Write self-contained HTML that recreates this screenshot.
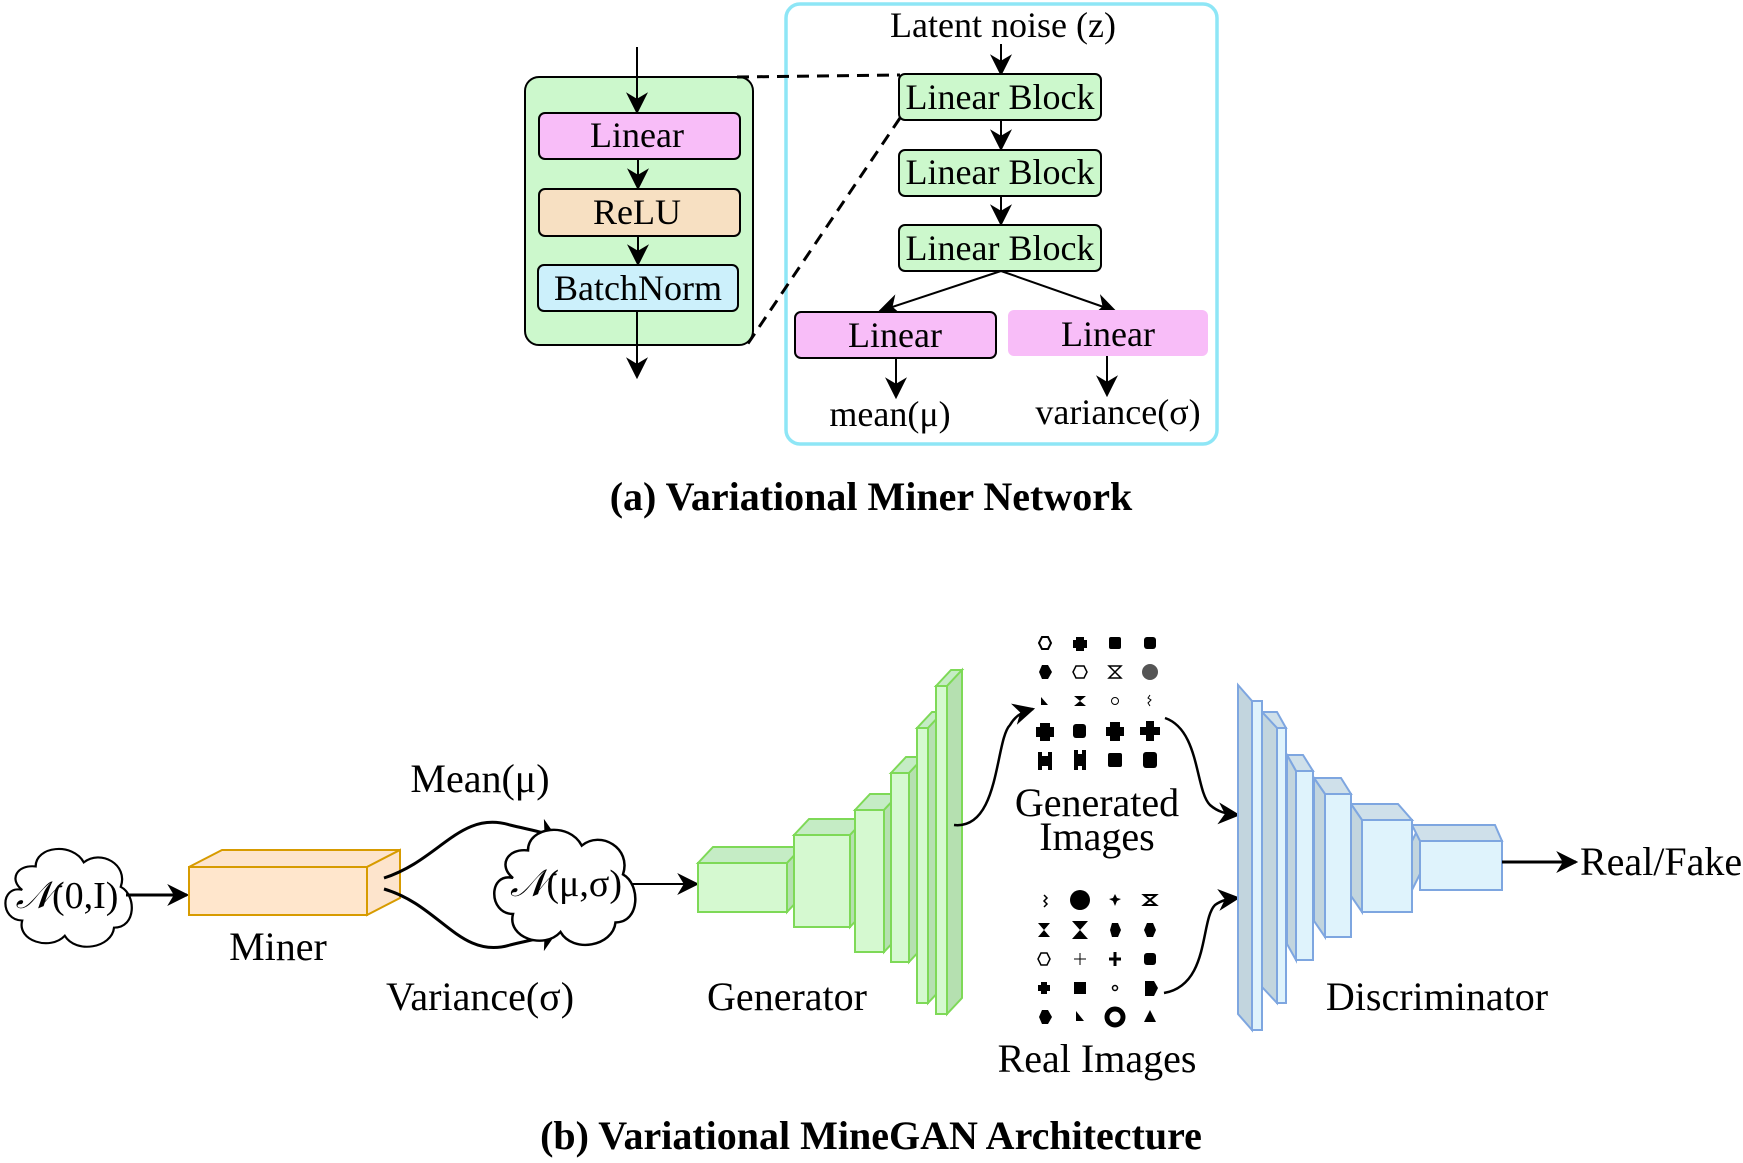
<!DOCTYPE html>
<html><head><meta charset="utf-8"><style>
html,body{margin:0;padding:0;background:#fff}
svg{display:block}
text{font-family:"Liberation Serif",serif;fill:#000}
</style></head><body>
<svg width="1743" height="1163" viewBox="0 0 1743 1163" xmlns="http://www.w3.org/2000/svg">
<defs>
<marker id="ah2" viewBox="0 0 10 10" refX="9" refY="5" markerWidth="22" markerHeight="22" orient="auto" markerUnits="userSpaceOnUse">
<path d="M0,0 L10,5 L0,10 L3,5 z" fill="#000"/></marker>
<g id="cloud"><path d="M-40,-5 C-60,-10 -60,25 -40,25 C-45,45 -15,55 -2,40 C8,58 40,52 42,32 C62,32 62,0 48,-8 C55,-30 30,-45 15,-32 C5,-52 -28,-48 -28,-28 C-45,-30 -52,-15 -40,-5 z" fill="#fff" stroke="#000" stroke-width="2"/></g>
</defs>

<!-- ===== Top (a) ===== -->
<rect x="525" y="77" width="228" height="268" rx="14" fill="#ccf8cc" stroke="#000" stroke-width="2"/>
<line x1="637" y1="47" x2="637" y2="112" stroke="#000" stroke-width="2" marker-end="url(#ah2)"/>
<rect x="539" y="113" width="201" height="46" rx="6" fill="#f8bdf8" stroke="#000" stroke-width="2"/>
<text x="637" y="147" font-size="36" text-anchor="middle">Linear</text>
<line x1="638" y1="159" x2="638" y2="188" stroke="#000" stroke-width="2" marker-end="url(#ah2)"/>
<rect x="539" y="189" width="201" height="47" rx="6" fill="#f7e0c2" stroke="#000" stroke-width="2"/>
<text x="637" y="224" font-size="36" text-anchor="middle">ReLU</text>
<line x1="638" y1="236" x2="638" y2="264" stroke="#000" stroke-width="2" marker-end="url(#ah2)"/>
<rect x="538" y="265" width="200" height="46" rx="6" fill="#ccf0fb" stroke="#000" stroke-width="2"/>
<text x="638" y="300" font-size="36" text-anchor="middle">BatchNorm</text>
<line x1="637" y1="311" x2="637" y2="377" stroke="#000" stroke-width="2" marker-end="url(#ah2)"/>

<rect x="786" y="4" width="431" height="440" rx="14" fill="none" stroke="#8ee6f6" stroke-width="3.5"/>
<line x1="737" y1="77" x2="900" y2="75" stroke="#000" stroke-width="3" stroke-dasharray="12,8"/>
<line x1="900" y1="118" x2="747" y2="345" stroke="#000" stroke-width="3" stroke-dasharray="12,8"/>
<text x="1003" y="37" font-size="36" text-anchor="middle">Latent noise (z)</text>
<line x1="1001" y1="44" x2="1001" y2="74" stroke="#000" stroke-width="2" marker-end="url(#ah2)"/>
<rect x="899" y="74" width="202" height="46" rx="6" fill="#ccf8cc" stroke="#000" stroke-width="2"/>
<text x="1000" y="109" font-size="36" text-anchor="middle">Linear Block</text>
<line x1="1001" y1="120" x2="1001" y2="149" stroke="#000" stroke-width="2" marker-end="url(#ah2)"/>
<rect x="899" y="150" width="202" height="46" rx="6" fill="#ccf8cc" stroke="#000" stroke-width="2"/>
<text x="1000" y="184" font-size="36" text-anchor="middle">Linear Block</text>
<line x1="1001" y1="196" x2="1001" y2="224" stroke="#000" stroke-width="2" marker-end="url(#ah2)"/>
<rect x="899" y="225" width="202" height="46" rx="6" fill="#ccf8cc" stroke="#000" stroke-width="2"/>
<text x="1000" y="260" font-size="36" text-anchor="middle">Linear Block</text>
<line x1="1001" y1="271" x2="880" y2="311" stroke="#000" stroke-width="2" marker-end="url(#ah2)"/>
<line x1="1001" y1="271" x2="1115" y2="311" stroke="#000" stroke-width="2" marker-end="url(#ah2)"/>
<rect x="795" y="312" width="201" height="46" rx="6" fill="#f8bdf8" stroke="#000" stroke-width="2"/>
<text x="895" y="347" font-size="36" text-anchor="middle">Linear</text>
<rect x="1008" y="310" width="200" height="46" rx="6" fill="#f8bdf8"/>
<text x="1108" y="346" font-size="36" text-anchor="middle">Linear</text>
<line x1="896" y1="358" x2="896" y2="397" stroke="#000" stroke-width="2" marker-end="url(#ah2)"/>
<line x1="1107" y1="356" x2="1107" y2="395" stroke="#000" stroke-width="2" marker-end="url(#ah2)"/>
<text x="890" y="426" font-size="36" text-anchor="middle">mean(μ)</text>
<text x="1118" y="424" font-size="36" text-anchor="middle">variance(σ)</text>
<text x="871" y="510" font-size="40" font-weight="bold" text-anchor="middle">(a) Variational Miner Network</text>

<!-- ===== Bottom (b) ===== -->
<use href="#cloud" transform="translate(67,895) scale(1.12,1.02)"/>
<text x="67" y="908" font-size="38" text-anchor="middle"><tspan font-style="italic">𝒩</tspan>(0,I)</text>
<line x1="126" y1="895" x2="187" y2="895" stroke="#000" stroke-width="3" marker-end="url(#ah2)"/>

<polygon points="189,867 222,850 400,850 367,867" fill="#fde4cc" stroke="#d79b00" stroke-width="2"/>
<polygon points="367,867 400,850 400,898 367,915" fill="#fde4cc" stroke="#d79b00" stroke-width="2"/>
<rect x="189" y="867" width="178" height="48" fill="#ffe6cc" stroke="#d79b00" stroke-width="2"/>
<text x="278" y="960" font-size="40" text-anchor="middle">Miner</text>

<path d="M384,878 C440,860 460,810 510,825 C530,830 545,832 556,838" fill="none" stroke="#000" stroke-width="3" marker-end="url(#ah2)"/>
<path d="M384,889 C440,905 460,960 510,945 C530,940 545,938 556,932" fill="none" stroke="#000" stroke-width="3" marker-end="url(#ah2)"/>
<text x="480" y="792" font-size="40" text-anchor="middle">Mean(μ)</text>
<text x="480" y="1010" font-size="40" text-anchor="middle">Variance(σ)</text>

<use href="#cloud" transform="translate(563,884) scale(1.25,1.2)"/>
<text x="566" y="896" font-size="38" text-anchor="middle"><tspan font-style="italic">𝒩</tspan>(μ,σ)</text>
<line x1="632" y1="884" x2="697" y2="884" stroke="#000" stroke-width="2" marker-end="url(#ah2)"/>

<!-- generator -->
<g stroke="#7ed957" stroke-width="2">
<polygon points="698,863 713,847 802,847 787,863" fill="#c5ecc5"/>
<polygon points="787,863 802,847 802,896 787,912" fill="#b5e0b0"/>
<rect x="698" y="863" width="89" height="49" fill="#d5f9d0"/>
<polygon points="794,835 809,819 865,819 850,835" fill="#c5ecc5"/>
<polygon points="850,835 865,819 865,911 850,927" fill="#b5e0b0"/>
<rect x="794" y="835" width="56" height="92" fill="#d5f9d0"/>
<polygon points="855,810 870,794 899,794 884,810" fill="#c5ecc5"/>
<polygon points="884,810 899,794 899,936 884,952" fill="#b5e0b0"/>
<rect x="855" y="810" width="29" height="142" fill="#d5f9d0"/>
<polygon points="891,773 906,757 924,757 909,773" fill="#c5ecc5"/>
<polygon points="909,773 924,757 924,946 909,962" fill="#b5e0b0"/>
<rect x="891" y="773" width="18" height="189" fill="#d5f9d0"/>
<polygon points="917,728 932,712 943,712 928,728" fill="#c5ecc5"/>
<polygon points="928,728 943,712 943,987 928,1003" fill="#b5e0b0"/>
<rect x="917" y="728" width="11" height="275" fill="#d5f9d0"/>
<polygon points="936,686 951,670 962,670 947,686" fill="#c5ecc5"/>
<polygon points="947,686 962,670 962,998 947,1014" fill="#b5e0b0"/>
<rect x="936" y="686" width="11" height="328" fill="#d5f9d0"/>
</g>
<text x="787" y="1010" font-size="40" text-anchor="middle">Generator</text>

<path d="M954,825 C1000,830 995,740 1010,725 C1015,716 1022,712 1033,709" fill="none" stroke="#000" stroke-width="2.5" marker-end="url(#ah2)"/>

<!-- icon grids -->
<g fill="#000">
<polygon points="1039,643 1042,637 1048,637 1051,643 1048,649 1042,649" fill="none" stroke="#000" stroke-width="2"/>
<path d="M1076,637h8v3h3v8h-3v3h-8v-3h-3v-8h3z"/>
<rect x="1109" y="637" width="12" height="12" rx="2"/>
<rect x="1144" y="637" width="12" height="12" rx="3"/>
<polygon points="1039,672 1042,665 1048,665 1052,672 1048,679 1042,679"/>
<polygon points="1073,672 1076,666 1084,666 1087,672 1084,678 1076,678" fill="none" stroke="#000" stroke-width="1.5"/>
<path d="M1109,666h12l-6,6 6,6h-12l6,-6z" fill="none" stroke="#000" stroke-width="1.5"/>
<circle cx="1150" cy="672" r="8" fill="#555"/>
<polygon points="1041,697 1048,705 1041,705"/>
<path d="M1074,696h12l-6,5 6,5h-12l6,-5z"/>
<circle cx="1115" cy="701" r="3.5" fill="none" stroke="#000" stroke-width="1"/>
<path d="M1150,695l-2,3 3,2-3,3 2,3" fill="none" stroke="#000" stroke-width="1"/>
<path d="M1040,723h10v4h4v10h-4v4h-10v-4h-4v-10h4z"/>
<rect x="1073" y="724" width="13" height="14" rx="3"/>
<path d="M1110,722h10v5h4v9h-4v5h-10v-5h-4v-9h4z"/>
<path d="M1146,721h8v6h6v8h-6v6h-8v-6h-6v-8h6z"/>
<path d="M1038,752h4v4h6v-4h4v18h-4v-4h-6v4h-4z"/>
<path d="M1074,750h4v4h4v-4h4v20h-4v-4h-4v4h-4z"/>
<rect x="1108" y="753" width="14" height="14" rx="2"/>
<rect x="1143" y="752" width="14" height="16" rx="3"/>
<path d="M1044,895l3,3-3,3 3,3-3,3" fill="none" stroke="#000" stroke-width="1.5"/>
<circle cx="1080" cy="900" r="10"/>
<polygon points="1115,894 1117,898 1121,899 1117,901 1115,906 1113,901 1109,899 1113,898"/>
<path d="M1144,895h12l-6,5 6,5h-12l6,-5z" fill="none" stroke="#000" stroke-width="2"/>
<path d="M1038,923h12l-6,7 6,7h-12l6,-7z"/>
<path d="M1072,921h16l-8,9 8,9h-16l8,-9z"/>
<polygon points="1110,930 1112,923 1118,923 1121,930 1118,937 1112,937"/>
<polygon points="1144,930 1147,923 1153,923 1156,930 1153,937 1147,937"/>
<polygon points="1038,959 1041,953 1047,953 1050,959 1047,965 1041,965" fill="none" stroke="#000" stroke-width="1.5"/>
<path d="M1080,953v12M1074,959h12" stroke="#000" stroke-width="1"/>
<path d="M1115,952v14M1109,959h12" stroke="#000" stroke-width="3"/>
<rect x="1144" y="953" width="12" height="12" rx="3"/>
<path d="M1041,982h6v3h3v6h-3v3h-6v-3h-3v-6h3z"/>
<rect x="1074" y="982" width="12" height="12"/>
<circle cx="1115" cy="988" r="2.5" fill="none" stroke="#000" stroke-width="1.5"/>
<polygon points="1145,981 1154,981 1158,988 1154,996 1145,996"/>
<polygon points="1039,1017 1042,1010 1048,1010 1052,1017 1048,1024 1042,1024"/>
<polygon points="1076,1011 1084,1021 1076,1021"/>
<circle cx="1115" cy="1017" r="8" fill="none" stroke="#000" stroke-width="5"/>
<polygon points="1150,1010 1156,1022 1144,1022"/>
</g>
<text x="1097" y="816" font-size="40" text-anchor="middle">Generated</text>
<text x="1097" y="850" font-size="40" text-anchor="middle">Images</text>
<text x="1097" y="1072" font-size="40" text-anchor="middle">Real Images</text>

<path d="M1165,718 C1200,730 1195,790 1210,805 C1218,812 1226,814 1238,815" fill="none" stroke="#000" stroke-width="2.5" marker-end="url(#ah2)"/>
<path d="M1164,993 C1210,985 1200,920 1215,905 C1222,900 1228,899 1238,898" fill="none" stroke="#000" stroke-width="2.5" marker-end="url(#ah2)"/>

<!-- discriminator -->
<g stroke="#7ea6e0" stroke-width="2">
<polygon points="1412,841 1420,825 1420,874 1412,890" fill="#c2d5de"/>
<polygon points="1412,825 1495,825 1502,841 1420,841" fill="#cfe0ea"/>
<rect x="1420" y="841" width="82" height="49" fill="#dff3fc"/>
<polygon points="1351,804 1398,804 1412,820 1362,820" fill="#cfe0ea"/>
<polygon points="1351,804 1362,820 1362,912 1351,896" fill="#c2d5de"/>
<rect x="1362" y="820" width="50" height="92" fill="#dff3fc"/>
<polygon points="1314,778 1341,778 1351,794 1325,794" fill="#cfe0ea"/>
<polygon points="1314,778 1325,794 1325,937 1314,921" fill="#c2d5de"/>
<rect x="1325" y="794" width="26" height="143" fill="#dff3fc"/>
<polygon points="1287,755 1303,755 1313,771 1296,771" fill="#cfe0ea"/>
<polygon points="1287,755 1296,771 1296,960 1287,944" fill="#c2d5de"/>
<rect x="1296" y="771" width="17" height="189" fill="#dff3fc"/>
<polygon points="1262,712 1277,712 1286,728 1277,728" fill="#cfe0ea"/>
<polygon points="1262,712 1277,728 1277,1003 1262,987" fill="#c2d5de"/>
<rect x="1277" y="728" width="9" height="275" fill="#dff3fc"/>
<polygon points="1238,685 1252,701 1252,1030 1238,1014" fill="#c2d5de"/>
<rect x="1252" y="701" width="10" height="329" fill="#dff3fc"/>
</g>
<line x1="1502" y1="862" x2="1576" y2="862" stroke="#000" stroke-width="3" marker-end="url(#ah2)"/>
<text x="1580" y="875" font-size="40">Real/Fake</text>
<text x="1437" y="1010" font-size="40" text-anchor="middle">Discriminator</text>

<text x="871" y="1149" font-size="40" font-weight="bold" text-anchor="middle">(b) Variational MineGAN Architecture</text>
</svg>
</body></html>
